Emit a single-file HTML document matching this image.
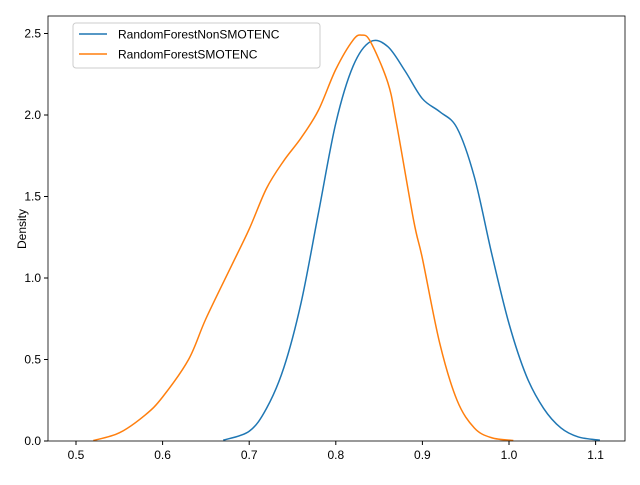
<!DOCTYPE html>
<html><head><meta charset="utf-8"><style>
body{margin:0;background:#fff;font-family:"Liberation Sans",sans-serif}
svg text{font-family:"Liberation Sans",sans-serif;font-size:12px;fill:#000}
</style></head><body>
<svg id="c" width="640" height="480"></svg>
<script>
const xTicks=[0.5,0.6,0.7,0.8,0.9,1.0,1.1];
const xTickLabels=["0.5","0.6","0.7","0.8","0.9","1.0","1.1"];
const yTicks=[0,0.5,1.0,1.5,2.0,2.5];
const yTickLabels=["0.0","0.5","1.0","1.5","2.0","2.5"];
const seriesNames=["RandomForestNonSMOTENC","RandomForestSMOTENC"];
const blueX=[0.67,0.70,0.72,0.74,0.76,0.78,0.80,0.82,0.84,0.86,0.88,0.90,0.92,0.94,0.96,0.98,1.00,1.02,1.04,1.06,1.08,1.105];
const blueY=[0.005,0.06,0.2,0.45,0.85,1.4,1.95,2.3,2.45,2.42,2.27,2.1,2.02,1.92,1.62,1.15,0.72,0.4,0.2,0.08,0.025,0.005];
const orangeX=[0.52,0.55,0.58,0.60,0.63,0.65,0.68,0.70,0.72,0.74,0.76,0.78,0.80,0.82,0.83,0.84,0.86,0.87,0.89,0.90,0.92,0.94,0.96,0.98,1.005];
const orangeY=[0.003,0.05,0.16,0.27,0.5,0.75,1.08,1.3,1.55,1.72,1.86,2.03,2.28,2.46,2.49,2.45,2.2,1.95,1.35,1.12,0.6,0.25,0.08,0.02,0.003];
const L=48,R=625,T=16,B=441;
const sx=v=>76+(v-0.5)*866;
const sy=v=>441-v*163;
const svg=document.getElementById('c');
const NS='http://www.w3.org/2000/svg';
function mk(t,a,p){const e=document.createElementNS(NS,t);for(const k in a)e.setAttribute(k,a[k]);(p||svg).appendChild(e);return e;}
xTicks.forEach((v,i)=>{
 const l=mk('line',{x1:sx(v),x2:sx(v),y1:B,y2:B+4,stroke:'#000'});
 
 
 const t=mk('text',{x:sx(v),y:B+18,'text-anchor':'middle'});t.textContent=xTickLabels[i];
 
 
});
yTicks.forEach((v,i)=>{
 const l=mk('line',{x1:L-4,x2:L,y1:sy(v),y2:sy(v),stroke:'#000'});
 
 
 const t=mk('text',{x:L-7,y:sy(v)+4,'text-anchor':'end'});t.textContent=yTickLabels[i];
 
 
});
const yt=mk('text',{x:0,y:0,transform:'translate(26,229) rotate(-90)','text-anchor':'middle'});yt.textContent='Density';


function path(xs,ys){
 const p=xs.map((x,i)=>[sx(x),sy(ys[i])]);
 let d='M'+p[0][0]+','+p[0][1];
 for(let i=0;i<p.length-1;i++){
  const p0=p[i-1]||p[i],p1=p[i],p2=p[i+1],p3=p[i+2]||p2;
  const c1=[p1[0]+(p2[0]-p0[0])/6,p1[1]+(p2[1]-p0[1])/6];
  const c2=[p2[0]-(p3[0]-p1[0])/6,p2[1]-(p3[1]-p1[1])/6];
  d+=' C'+c1+' '+c2+' '+p2;
 }
 return d;
}
const b=mk('path',{d:path(blueX,blueY),fill:'none',stroke:'#1f77b4','stroke-width':1.5});


const o=mk('path',{d:path(orangeX,orangeY),fill:'none',stroke:'#ff7f0e','stroke-width':1.5});


const fr=mk('rect',{x:L,y:T,width:R-L,height:B-T,fill:'none',stroke:'#000','stroke-width':0.8});


const g=mk('g',{});


mk('rect',{x:73,y:23,width:247,height:45,rx:3,fill:'#fff','fill-opacity':0.8,stroke:'#ccc'},g);
['#1f77b4','#ff7f0e'].forEach((c,i)=>{
 const y=34+i*20;
 const ln=mk('line',{x1:79,x2:107,y1:y,y2:y,stroke:c,'stroke-width':1.5},g);
 
 
 const t=mk('text',{x:118,y:y+4.5},g);t.textContent=seriesNames[i];
 
 
});
</script>
</body></html>
